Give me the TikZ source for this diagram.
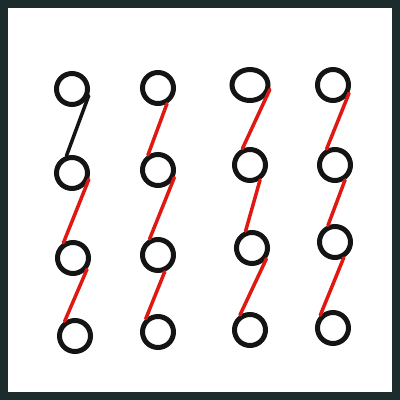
\documentclass[tikz,border=0pt]{standalone}
\usetikzlibrary{shapes.geometric}
\definecolor{frame}{HTML}{1C2B2B}
\definecolor{ink}{HTML}{141414}
\definecolor{redink}{HTML}{E01812}
\tikzset{
  ring/.style={circle,draw=ink,line width=5pt,minimum size=31pt,inner sep=0pt},
  blk/.style={draw=ink,line width=3.5pt,line cap=round},
  redl/.style={draw=redink,line width=3.5pt,line cap=round}
}
\begin{document}
\begin{tikzpicture}[x=1pt,y=-1pt]
\useasboundingbox (0,0) rectangle (400,400);
\fill[frame] (0,0) rectangle (400,400);
\fill[white] (8,8) rectangle (392,392);
% column 1
\node[ring] (a1) at (72,89) {};
\node[ring] (a2) at (72,173) {};
\node[ring] (a3) at (73,258) {};
\node[ring] (a4) at (75,336) {};
% column 2
\node[ring] (b1) at (158,88) {};
\node[ring] (b2) at (158,170) {};
\node[ring] (b3) at (158,255) {};
\node[ring] (b4) at (158,332) {};
% column 3
\node[ring,ellipse,minimum width=36pt,minimum height=31pt] (c1) at (250,85) {};
\node[ring] (c2) at (250,165) {};
\node[ring] (c3) at (252,248) {};
\node[ring] (c4) at (250,330) {};
% column 4
\node[ring] (d1) at (333,85) {};
\node[ring] (d2) at (335,165) {};
\node[ring] (d3) at (335,242) {};
\node[ring] (d4) at (333,328) {};
% connectors
\draw[blk] (a1.-22) -- (a2.108);
\draw[redl] (a2.-21) -- (a3.122);
\draw[redl] (a3.-39) -- (a4.125);
\draw[redl] (b1.-60) -- (b2.124);
\draw[redl] (b2.-25) -- (b3.118);
\draw[redl] (b3.-68) -- (b4.133);
\draw[redl] (c1.-13) -- (c2.115);
\draw[redl] (c2.-56) -- (c3.111);
\draw[redl] (c3.-37) -- (c4.124);
\draw[redl] (d1.-27) -- (d2.118);
\draw[redl] (d2.-56) -- (d3.113);
\draw[redl] (d3.-61) -- (d4.135);
\end{tikzpicture}
\end{document}
